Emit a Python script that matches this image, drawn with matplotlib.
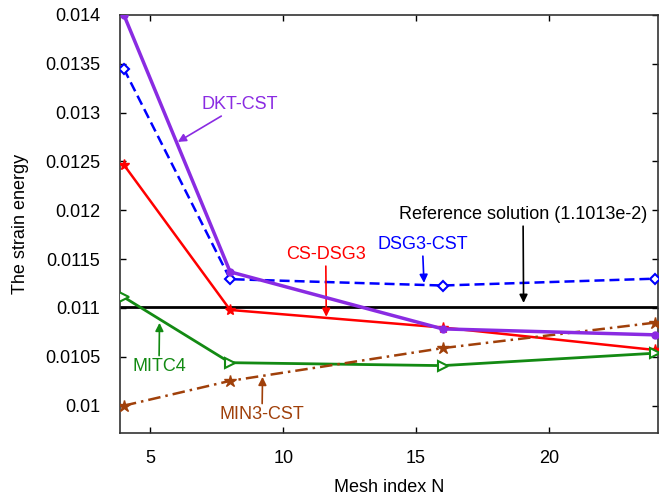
import matplotlib
matplotlib.use('Agg')
import matplotlib.pyplot as plt

plt.rcParams['font.family'] = ['Liberation Sans', 'DejaVu Sans']

mesh_n = [4, 8, 16, 24]
dkt_cst = [0.01400, 0.01137, 0.010786, 0.010725]
dsg3_cst = [0.013447, 0.011295, 0.01123, 0.01130]
cs_dsg3 = [0.012465, 0.01098, 0.01080, 0.01057]
mitc4 = [0.01111, 0.01044, 0.01041, 0.010537]
min3_cst = [0.01000, 0.010254, 0.010589, 0.01085]
reference = 0.011013

x_ticks = [5, 10, 15, 20]
y_ticks = [0.01, 0.0105, 0.011, 0.0115, 0.012, 0.0125, 0.013, 0.0135, 0.014]
y_tick_labels = ['0.01', '0.0105', '0.011', '0.0115', '0.012', '0.0125', '0.013', '0.0135', '0.014']

fig = plt.figure(figsize=(6.59, 4.98), dpi=100)
ax = fig.add_axes([0.182, 0.1305, 0.816, 0.8395])

purple = '#8a2be2'
blue = '#0000ff'
red = '#ff0000'
green = '#138a13'
brown = '#a0400a'
fs = 13

ax.axhline(reference, color='black', lw=2, zorder=2)
ax.plot(mesh_n, dsg3_cst, color=blue, ls=(0, (4, 2)), lw=1.8, marker='D', ms=5,
        mfc='white', mec=blue, mew=1.5, zorder=3)
ax.plot(mesh_n, dkt_cst, color=purple, lw=2.5, marker='o', ms=5, zorder=4)
ax.plot(mesh_n, cs_dsg3, color=red, lw=1.8, marker='*', ms=8, zorder=3)
ax.plot(mesh_n, mitc4, color=green, lw=2, marker='>', ms=7, mfc='white',
        mec=green, mew=1.5, zorder=3)
ax.plot(mesh_n, min3_cst, color=brown, lw=1.8, ls=(0, (5, 2, 1, 2)), marker='*',
        ms=9, zorder=3)

arrow = dict(arrowstyle='-|>', lw=1.2, mutation_scale=12, shrinkA=0, shrinkB=0)
ax.annotate('DKT-CST', xy=(6.03, 0.0127), xytext=(6.94, 0.01308), color=purple,
            fontsize=fs, va='center', arrowprops=dict(arrow, color=purple))
ax.annotate('CS-DSG3', xy=(11.62, 0.01091), xytext=(11.6, 0.011544), color=red,
            fontsize=fs, ha='center', va='center', arrowprops=dict(arrow, color=red))
ax.annotate('DSG3-CST', xy=(15.3, 0.011257), xytext=(15.24, 0.011646), color=blue,
            fontsize=fs, ha='center', va='center', arrowprops=dict(arrow, color=blue))
ax.annotate('Reference solution (1.1013e-2)', xy=(19.05, 0.011052),
            xytext=(19.03, 0.011953), color='black', fontsize=fs, ha='center',
            va='center', arrowprops=dict(arrow, color='black'))
ax.annotate('MITC4', xy=(5.34, 0.010848), xytext=(5.32, 0.010397), color=green,
            fontsize=fs, ha='center', va='center', arrowprops=dict(arrow, color=green))
ax.annotate('MIN3-CST', xy=(9.22, 0.010295), xytext=(9.2, 0.009906), color=brown,
            fontsize=fs, ha='center', va='center', arrowprops=dict(arrow, color=brown))

ax.set_xlim(3.85, 24.1)
ax.set_ylim(0.00972, 0.014)
ax.set_xticks(x_ticks)
ax.set_yticks(y_ticks)
ax.set_yticklabels(y_tick_labels)
ax.tick_params(direction='in', top=True, right=True, labelsize=fs, length=4,
               width=1)
ax.tick_params(axis='y', pad=14)
ax.tick_params(axis='x', pad=12)
for spine in ax.spines.values():
    spine.set_linewidth(1.2)
    spine.set_color('#333333')

ax.set_xlabel('Mesh index N', fontsize=fs, labelpad=9)
ax.set_ylabel('The strain energy', fontsize=fs, labelpad=12)

fig.savefig('out.png', dpi=100)
